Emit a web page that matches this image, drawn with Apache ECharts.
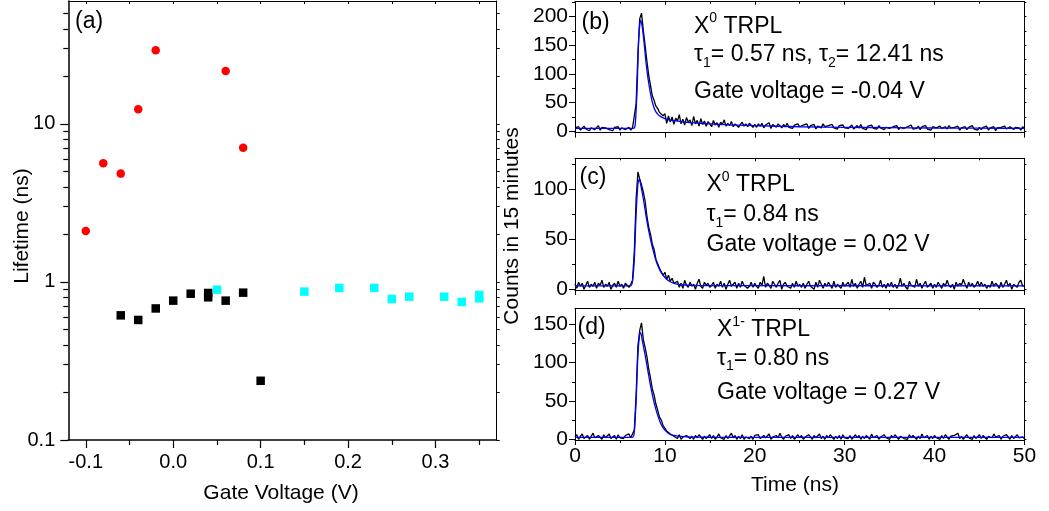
<!DOCTYPE html>
<html><head><meta charset="utf-8">
<script src="https://cdn.jsdelivr.net/npm/echarts@6/dist/echarts.min.js"></script>
<style>html,body{margin:0;padding:0;background:#fff}#c{width:1049px;height:511px}</style>
</head><body><div id="c"></div>
<script>
// ---------- Panel (a): lifetime vs gate voltage ----------
const voltRed   = [-0.10, -0.08, -0.06, -0.04, -0.02, 0.06, 0.08];
const lifeRed   = [2.10, 5.65, 4.85, 12.4, 29.3, 21.6, 7.08];
const voltBlack = [-0.06, -0.04, -0.02, 0.00, 0.02, 0.04, 0.04, 0.06, 0.08, 0.10];
const lifeBlack = [0.615, 0.575, 0.68, 0.762, 0.843, 0.852, 0.80, 0.762, 0.856, 0.237];
const voltCyan  = [0.05, 0.15, 0.19, 0.23, 0.25, 0.27, 0.31, 0.33, 0.35, 0.35];
const lifeCyan  = [0.894, 0.869, 0.917, 0.917, 0.78, 0.807, 0.807, 0.748, 0.827, 0.788];
const voltTicks = [-0.1, 0.0, 0.1, 0.2, 0.3];
const voltMinorTicks = [-0.05, 0.05, 0.15, 0.25, 0.35];
const lifeTicks = [0.1, 1, 10];
const lifeMinorTicks = [0.2,0.3,0.4,0.5,0.6,0.7,0.8,0.9, 2,3,4,5,6,7,8,9, 20,30,40,50];

// ---------- Panels (b)-(d): TRPL traces, 0.2 ns bins from 0 to 50 ns ----------
const binWidthNs = 0.2;
const countsB = [
  6,3,8,2,5,9,4,7,1,6,8,3,5,10,2,7,4,6,9,3,5,1,7,4,8,2,6,9,3,5,7,2,6,
  9,48,135,196,206,176,150,122,98,80,62,54,44,40,33,36,27,31,
  14,27,16,25,12,23,18,29,13,21,11,24,16,20,10,26,13,19,9,22,
  12,18,9,17,13,8,19,11,15,7,16,12,20,9,14,10,17,8,13,15,7,12,16,9,13,8,14,11,7,12,
  7,13,9,14,6,11,8,15,5,12,9,7,13,10,6,12,8,14,7,10,5,11,9,13,8,
  6,11,8,13,5,10,7,12,4,9,11,6,13,8,5,10,7,12,6,9,4,10,8,11,6,
  9,5,8,11,4,7,10,6,12,5,8,3,9,7,11,5,8,4,10,6,9,3,7,10,5,
  4,8,6,10,3,7,9,5,2,8,6,11,4,7,5,9,3,8,6,10,4,7,2,8,5,
  6,3,9,5,2,8,4,10,6,3,7,5,9,2,6,4,8,3,7,5,10,4,6,2,7,
  3,7,5,9,2,6,4,8,1,6,3,7,5,9,4,2,8,5,3,7,4,6,2,8,5
];
const fitTimeB   = [0, 6.5, 6.7, 6.9, 7.1, 7.3, 7.5, 7.7, 7.9, 8.1, 8.3, 8.5, 8.7, 8.9, 9.2, 9.5, 10, 10.5, 11, 12, 13, 14, 16, 18, 20, 25, 30, 35, 40, 45, 50];
const fitCountsB = [5, 5, 12, 70, 165, 194, 180, 152, 120, 95, 75, 58, 46, 37, 30, 26, 22, 20, 18.5, 16.5, 15, 14, 12, 10.8, 9.8, 8, 7, 6.3, 5.8, 5.5, 5.2];

const countsC = [
  5,1,7,3,6,0,4,8,2,5,3,7,1,6,4,9,2,5,3,7,0,4,6,2,8,3,5,1,6,4,2,5,
  9,38,90,117,110,104,97,88,73,62,55,45,40,30,30,21,22,14,17,10,14,8,11,6,
  5,8,2,6,1,9,4,2,7,3,5,0,6,10,3,1,7,4,6,2,
  4,7,1,5,3,8,2,6,0,5,9,3,4,7,1,6,2,8,4,5,1,3,7,2,6,
  3,1,7,4,13,2,6,4,1,8,5,2,6,9,0,5,7,3,4,1,6,2,8,3,5,
  2,6,1,5,8,3,4,0,7,2,9,5,1,6,3,7,4,1,8,2,5,6,1,7,3,
  4,7,2,10,3,6,1,5,8,2,12,4,3,6,1,7,5,2,4,9,2,5,1,6,3,
  7,2,5,1,4,11,3,6,2,0,8,4,5,2,10,3,6,1,5,8,2,4,6,1,5,
  2,7,4,1,6,3,9,4,2,5,0,7,3,6,4,10,5,1,7,3,6,2,4,8,3,
  7,3,5,1,4,2,8,3,6,4,1,7,2,5,9,3,6,0,5,4,2,7,9,3,4
];
const fitTimeC   = [0, 6.2, 6.4, 6.6, 6.8, 7.0, 7.15, 7.4, 7.7, 8.0, 8.3, 8.6, 8.9, 9.2, 9.5, 9.8, 10.2, 10.6, 11.2, 12, 13, 15, 50];
const fitCountsC = [3.5, 3.5, 8, 30, 75, 105, 110, 100, 85, 68, 54, 42, 32, 24, 18, 14, 10, 7.5, 5.5, 4.5, 3.9, 3.6, 3.5];

const countsD = [
  3,6,0,4,7,1,3,5,0,4,8,2,1,5,3,0,6,2,4,7,1,3,5,0,6,2,4,1,5,3,7,2,1,
  12,58,122,142,152,130,120,108,92,80,66,58,46,38,29,25,18,16,11,12,7,8,4,
  5,1,6,0,3,2,5,7,1,4,0,5,2,6,3,0,4,1,3,6,
  1,5,0,3,7,2,4,0,5,1,3,8,2,5,0,4,1,6,0,3,5,1,4,0,5,
  3,6,1,0,5,2,4,7,0,3,1,5,2,8,3,0,4,2,6,1,5,0,3,6,2,
  5,0,3,1,6,4,0,5,2,3,7,1,4,0,5,2,6,3,0,4,1,5,0,6,2,
  4,1,5,0,3,6,2,5,0,4,1,5,3,0,7,2,4,5,0,3,1,6,2,4,0,
  5,2,6,3,0,4,5,1,3,0,6,2,5,3,0,4,1,7,2,3,5,0,4,1,5,
  2,4,0,5,1,6,3,0,4,2,5,3,8,1,4,0,3,6,2,4,0,5,1,3,6,
  1,5,3,0,4,6,2,7,3,1,5,0,4,2,6,3,0,5,1,3,6,2,4,3,1
];
const fitTimeD   = [0, 6.4, 6.6, 6.8, 7.0, 7.2, 7.3, 7.5, 7.8, 8.1, 8.4, 8.7, 9.0, 9.3, 9.6, 10.0, 10.5, 11, 12, 13, 15, 50];
const fitCountsD = [2.6, 2.6, 10, 50, 110, 138, 139, 128, 110, 90, 70, 53, 39, 28, 19, 12, 7, 5, 3.4, 2.9, 2.7, 2.6];

const countTicksB = [0, 50, 100, 150, 200];
const countMinorB = [25, 75, 125, 175, 225];
const countTicksC = [0, 50, 100];
const countMinorC = [25, 75, 125];
const countTicksD = [0, 50, 100, 150];
const countMinorD = [25, 75, 125];

// ---------- build ----------
const FONT = '"Liberation Sans", Arial, Helvetica, sans-serif';
const BLACK = '#000';
const pairs = (xs, ys) => xs.map((x, i) => [x, ys[i]]);
const binned = ys => ys.map((y, i) => [Math.round(i * binWidthNs * 10) / 10, y]);
const lineBlack = { color: BLACK, width: 1 };

const xAxes = [], yAxes = [];
// panel (a) axes
const A_XMIN = -0.12, A_XMAX = 0.37, A_YMIN = 0.1, A_YMAX = 60;
xAxes.push({ gridIndex: 0, type: 'value', min: A_XMIN, max: A_XMAX, position: 'bottom',
  axisLine: { show: true, onZero: false, lineStyle: { color: BLACK, width: 1.5 } },
  axisTick: { show: true, inside: false, length: 8, customValues: voltTicks, lineStyle: { color: BLACK, width: 1.2 } },
  axisLabel: { show: true, customValues: voltTicks, formatter: v => v.toFixed(1), color: BLACK, fontSize: 20, fontFamily: FONT, margin: 12 },
  splitLine: { show: false } });
xAxes.push({ gridIndex: 0, type: 'value', min: A_XMIN, max: A_XMAX, position: 'bottom',
  axisLine: { show: false, onZero: false }, axisTick: { show: true, inside: false, length: 5, customValues: voltMinorTicks, lineStyle: { color: BLACK, width: 1.2 } },
  axisLabel: { show: false }, splitLine: { show: false } });
xAxes.push({ gridIndex: 0, type: 'value', min: A_XMIN, max: A_XMAX, position: 'top',
  axisLine: { show: true, onZero: false, lineStyle: { color: BLACK, width: 1 } },
  axisTick: { show: true, inside: true, length: 3, customValues: voltTicks.concat(voltMinorTicks), lineStyle: { color: BLACK } },
  axisLabel: { show: false }, splitLine: { show: false } });

const isDecade = v => Math.abs(Math.log10(v) - Math.round(Math.log10(v))) < 1e-6;
yAxes.push({ gridIndex: 0, type: 'log', logBase: 10, min: A_YMIN, max: A_YMAX, position: 'left',
  axisLine: { show: true, onZero: false, lineStyle: { color: BLACK, width: 1.5 } },
  axisTick: { show: false }, minorTick: { show: false },
  axisLabel: { color: BLACK, fontSize: 20, fontFamily: FONT, margin: 13,
    formatter: v => (isDecade(v) && lifeTicks.some(t => Math.abs(t - v) < 1e-9)) ? (v < 1 ? v.toFixed(1) : String(Math.round(v))) : '' },
  splitLine: { show: false } });
const LMIN = Math.log10(A_YMIN), LMAX = Math.log10(A_YMAX);
yAxes.push({ gridIndex: 0, type: 'value', min: LMIN, max: LMAX, position: 'left', axisLine: { show: false, onZero: false },
  axisTick: { show: true, length: 8, customValues: lifeTicks.map(Math.log10), lineStyle: { color: BLACK, width: 1.2 } },
  axisLabel: { show: false }, splitLine: { show: false } });
yAxes.push({ gridIndex: 0, type: 'value', min: LMIN, max: LMAX, position: 'left', axisLine: { show: false, onZero: false },
  axisTick: { show: true, length: 5, customValues: lifeMinorTicks.map(Math.log10), lineStyle: { color: BLACK, width: 1.2 } },
  axisLabel: { show: false }, splitLine: { show: false } });
yAxes.push({ gridIndex: 0, type: 'value', min: LMIN, max: LMAX, position: 'right',
  axisLine: { show: true, onZero: false, lineStyle: { color: BLACK, width: 1 } },
  axisTick: { show: true, length: 3, customValues: lifeTicks.concat(lifeMinorTicks).map(Math.log10), lineStyle: { color: BLACK } },
  axisLabel: { show: false }, splitLine: { show: false } });

function trplAxes(gi, ymin, ymax, majors, minors, showX) {
  const xb = xAxes.length;
  xAxes.push({ gridIndex: gi, type: 'value', min: 0, max: 50, interval: 10, position: 'bottom',
    axisLine: { show: true, onZero: false, lineStyle: lineBlack },
    axisTick: { show: true, inside: false, length: 5, lineStyle: lineBlack },
    minorTick: { show: true, splitNumber: 2, length: 3, lineStyle: lineBlack },
    axisLabel: { show: showX, color: BLACK, fontSize: 21, fontFamily: FONT, margin: 6 },
    splitLine: { show: false } });
  xAxes.push({ gridIndex: gi, type: 'value', min: 0, max: 50, interval: 10, position: 'top',
    axisLine: { show: true, onZero: false, lineStyle: lineBlack },
    axisTick: { show: true, inside: true, length: 3, lineStyle: lineBlack },
    minorTick: { show: true, splitNumber: 2, length: 2, lineStyle: lineBlack },
    axisLabel: { show: false }, splitLine: { show: false } });
  const yb = yAxes.length;
  yAxes.push({ gridIndex: gi, type: 'value', min: ymin, max: ymax, position: 'left',
    axisLine: { show: true, onZero: false, lineStyle: lineBlack },
    axisTick: { show: true, length: 6, customValues: majors, lineStyle: lineBlack },
    axisLabel: { show: true, customValues: majors, color: BLACK, fontSize: 21, fontFamily: FONT, margin: 7 },
    splitLine: { show: false } });
  yAxes.push({ gridIndex: gi, type: 'value', min: ymin, max: ymax, position: 'left', axisLine: { show: false, onZero: false },
    axisTick: { show: true, length: 3, customValues: minors, lineStyle: lineBlack },
    axisLabel: { show: false }, splitLine: { show: false } });
  yAxes.push({ gridIndex: gi, type: 'value', min: ymin, max: ymax, position: 'right',
    axisLine: { show: true, onZero: false, lineStyle: lineBlack },
    axisTick: { show: true, length: 2, customValues: majors.concat(minors), lineStyle: lineBlack },
    axisLabel: { show: false }, splitLine: { show: false } });
  return { x: xb, y: yb };
}
const axB = trplAxes(1, -2.4, 226, countTicksB, countMinorB, false);
const axC = trplAxes(2, -0.7, 130.6, countTicksC, countMinorC, false);
const axD = trplAxes(3, -0.9, 170.9, countTicksD, countMinorD, true);

const series = [
  { type: 'scatter', xAxisIndex: 0, yAxisIndex: 0, symbol: 'rect', symbolSize: 8.5, itemStyle: { color: '#000000', opacity: 1 }, data: pairs(voltBlack, lifeBlack) },
  { type: 'scatter', xAxisIndex: 0, yAxisIndex: 0, symbol: 'rect', symbolSize: 8.5, itemStyle: { color: '#00ffff', opacity: 1 }, data: pairs(voltCyan, lifeCyan) },
  { type: 'scatter', xAxisIndex: 0, yAxisIndex: 0, symbol: 'circle', symbolSize: 8.5, itemStyle: { color: '#ff0000', opacity: 1 }, data: pairs(voltRed, lifeRed) }
];
[[axB, countsB, fitTimeB, fitCountsB], [axC, countsC, fitTimeC, fitCountsC], [axD, countsD, fitTimeD, fitCountsD]].forEach(([ax, cnt, ft, fc]) => {
  series.push({ type: 'line', xAxisIndex: ax.x, yAxisIndex: ax.y, showSymbol: false, symbol: 'none', lineStyle: { color: '#000', width: 1.3 }, data: binned(cnt) });
  series.push({ type: 'line', xAxisIndex: ax.x, yAxisIndex: ax.y, showSymbol: false, symbol: 'none', smooth: 0.25, lineStyle: { color: '#0000ff', width: 1.3 }, data: pairs(ft, fc) });
});

const rich = {
  m: { fontSize: 23, fontFamily: FONT, lineHeight: 30, fill: BLACK },
  sub: { fontSize: 14, fontFamily: FONT, lineHeight: 8, verticalAlign: 'bottom', fill: BLACK },
  sup: { fontSize: 14, fontFamily: FONT, lineHeight: 18, verticalAlign: 'top', fill: BLACK }
};
function T(x, y, text, size, extra) {
  const st = { text: text, fill: BLACK, font: size + 'px ' + FONT, align: 'left', verticalAlign: 'middle', textAlign: 'left', textVerticalAlign: 'middle' };
  if (extra && extra.rich) st.rich = rich;
  if (extra && extra.center) { st.align = 'center'; st.textAlign = 'center'; }
  const el = { type: 'text', x: x, y: y, silent: true, style: st };
  if (extra && extra.rotate) el.rotation = Math.PI / 2;
  return el;
}
const graphics = [
  T(75, 22, '(a)', 23),
  T(22, 226, 'Lifetime (ns)', 21, { center: true, rotate: true }),
  T(281, 493, 'Gate Voltage (V)', 21, { center: true }),
  T(581.5, 22.5, '(b)', 23),
  T(694, 26.5, '{m|X}{sup|0}{m| TRPL}', 23, { rich: true }),
  T(694, 55, '{m|τ}{sub|1}{m|= 0.57 ns, τ}{sub|2}{m|= 12.41 ns}', 23, { rich: true }),
  T(694, 92, 'Gate voltage = -0.04 V', 23),
  T(579.5, 177.5, '(c)', 23),
  T(706.5, 185, '{m|X}{sup|0}{m| TRPL}', 23, { rich: true }),
  T(706.5, 215, '{m|τ}{sub|1}{m|= 0.84 ns}', 23, { rich: true }),
  T(706.5, 245, 'Gate voltage = 0.02 V', 23),
  T(577.5, 328, '(d)', 23),
  T(717, 330, '{m|X}{sup|1-}{m| TRPL}', 23, { rich: true }),
  T(717, 358.5, '{m|τ}{sub|1}{m|= 0.80 ns}', 23, { rich: true }),
  T(717, 393, 'Gate voltage = 0.27 V', 23),
  T(512, 226, 'Counts in 15 minutes', 21, { center: true, rotate: true }),
  T(795, 485, 'Time (ns)', 21, { center: true })
];

const chart = echarts.init(document.getElementById('c'), null, { renderer: 'canvas' });
chart.setOption({
  animation: false,
  backgroundColor: '#ffffff',
  grid: [
    { left: 68.3, top: 1, width: 428.4, height: 439, show: false },
    { left: 575, top: 1.7, width: 449.4, height: 131, show: false },
    { left: 575, top: 158.3, width: 449.4, height: 131.7, show: false },
    { left: 575, top: 308.3, width: 449.4, height: 131.7, show: false }
  ],
  xAxis: xAxes,
  yAxis: yAxes,
  series: series,
  graphic: { elements: graphics }
});
</script>
</body></html>
